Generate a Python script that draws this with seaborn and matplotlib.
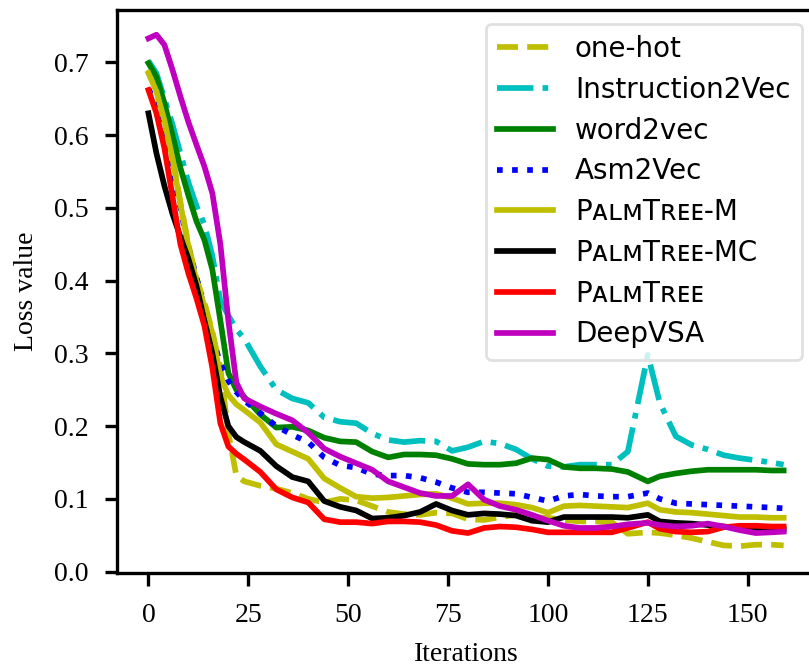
import numpy as np
import matplotlib
matplotlib.use("Agg")
import matplotlib.pyplot as plt
import seaborn as sns

# Training iterations at which the loss was recorded
iterations = [0, 2, 4, 6, 8, 10, 12, 14, 16, 18, 20, 22, 24,
              28, 32, 36, 40, 44, 48, 52, 56, 60, 64, 68, 72, 76, 80, 84, 88,
              92, 96, 100, 104, 108, 112, 116, 120, 125, 128, 132, 136, 140,
              144, 148, 152, 156, 159]

one_hot = [0.690, 0.665, 0.625, 0.572, 0.508, 0.450, 0.403, 0.370, 0.330, 0.280, 0.190, 0.132, 0.124,
           0.118, 0.114, 0.108, 0.100, 0.095, 0.100, 0.098, 0.090, 0.082, 0.079, 0.078, 0.081, 0.080,
           0.072, 0.071, 0.075, 0.078, 0.075, 0.074, 0.071, 0.069, 0.069, 0.068, 0.052, 0.054, 0.053,
           0.050, 0.046, 0.041, 0.036, 0.035, 0.037, 0.037, 0.036]

instruction2vec = [0.702, 0.685, 0.650, 0.615, 0.575, 0.535, 0.503, 0.477, 0.434, 0.372, 0.352, 0.333, 0.320,
                   0.282, 0.250, 0.238, 0.232, 0.212, 0.206, 0.204, 0.190, 0.181, 0.178, 0.180, 0.179, 0.166,
                   0.171, 0.179, 0.176, 0.168, 0.155, 0.145, 0.144, 0.147, 0.147, 0.147, 0.165, 0.298, 0.232,
                   0.186, 0.174, 0.168, 0.160, 0.156, 0.153, 0.150, 0.147]

word2vec = [0.699, 0.680, 0.644, 0.600, 0.555, 0.517, 0.482, 0.456, 0.415, 0.345, 0.273, 0.250, 0.240,
            0.216, 0.198, 0.199, 0.194, 0.184, 0.179, 0.178, 0.165, 0.157, 0.161, 0.161, 0.160, 0.155,
            0.148, 0.147, 0.147, 0.149, 0.156, 0.154, 0.144, 0.142, 0.142, 0.141, 0.137, 0.124, 0.131,
            0.135, 0.138, 0.140, 0.140, 0.140, 0.140, 0.139, 0.139]

asm2vec = [0.664, 0.640, 0.600, 0.550, 0.500, 0.445, 0.405, 0.362, 0.320, 0.287, 0.262, 0.247, 0.235,
           0.218, 0.200, 0.188, 0.178, 0.157, 0.146, 0.143, 0.134, 0.132, 0.132, 0.129, 0.123, 0.115,
           0.109, 0.109, 0.108, 0.107, 0.102, 0.097, 0.104, 0.106, 0.104, 0.103, 0.103, 0.108, 0.100,
           0.094, 0.093, 0.092, 0.091, 0.090, 0.089, 0.088, 0.087]

palmtree_m = [0.685, 0.660, 0.620, 0.568, 0.505, 0.447, 0.400, 0.365, 0.328, 0.268, 0.243, 0.230, 0.222,
              0.205, 0.175, 0.165, 0.155, 0.128, 0.115, 0.103, 0.101, 0.102, 0.104, 0.106, 0.107, 0.101,
              0.093, 0.094, 0.094, 0.092, 0.088, 0.081, 0.090, 0.091, 0.090, 0.089, 0.088, 0.094, 0.085,
              0.082, 0.081, 0.079, 0.077, 0.075, 0.075, 0.074, 0.074]

palmtree_mc = [0.630, 0.575, 0.530, 0.492, 0.460, 0.430, 0.393, 0.345, 0.300, 0.240, 0.200, 0.185, 0.178,
               0.166, 0.145, 0.130, 0.124, 0.097, 0.089, 0.084, 0.073, 0.074, 0.077, 0.082, 0.093, 0.084,
               0.078, 0.080, 0.079, 0.077, 0.070, 0.068, 0.075, 0.075, 0.075, 0.075, 0.074, 0.078, 0.069,
               0.067, 0.066, 0.064, 0.062, 0.060, 0.058, 0.058, 0.058]

palmtree = [0.662, 0.630, 0.582, 0.516, 0.450, 0.410, 0.376, 0.338, 0.280, 0.204, 0.172, 0.162, 0.154,
            0.137, 0.113, 0.102, 0.095, 0.072, 0.068, 0.068, 0.066, 0.069, 0.069, 0.068, 0.064, 0.056,
            0.053, 0.060, 0.062, 0.061, 0.058, 0.054, 0.054, 0.054, 0.054, 0.054, 0.060, 0.068, 0.059,
            0.055, 0.054, 0.055, 0.061, 0.063, 0.063, 0.062, 0.062]

deepvsa = [0.733, 0.738, 0.724, 0.690, 0.653, 0.618, 0.587, 0.557, 0.520, 0.450, 0.345, 0.260, 0.238,
           0.227, 0.217, 0.208, 0.191, 0.169, 0.158, 0.149, 0.140, 0.124, 0.116, 0.108, 0.104, 0.104,
           0.120, 0.099, 0.090, 0.085, 0.078, 0.070, 0.063, 0.060, 0.060, 0.062, 0.065, 0.067, 0.064,
           0.062, 0.063, 0.066, 0.062, 0.057, 0.053, 0.054, 0.055]

labels = ["one-hot", "Instruction2Vec", "word2vec", "Asm2Vec",
          "P\u1d00\u029f\u1d0dT\u0280\u1d07\u1d07-M",
          "P\u1d00\u029f\u1d0dT\u0280\u1d07\u1d07-MC",
          "P\u1d00\u029f\u1d0dT\u0280\u1d07\u1d07",
          "DeepVSA"]
series = [one_hot, instruction2vec, word2vec, asm2vec,
          palmtree_m, palmtree_mc, palmtree, deepvsa]
colors = ["y", "c", "g", "b", "y", "k", "r", "m"]
styles = ["--", "-.", "-", ":", "-", "-", "-", "-"]

sns.set_style("ticks")
plt.rcParams.update({
    "font.family": "serif",
    "font.serif": ["Liberation Serif", "DejaVu Serif"],
    "font.size": 20,
    "text.color": "black",
    "axes.labelcolor": "black",
    "axes.edgecolor": "black",
    "axes.linewidth": 2.4,
    "xtick.color": "black",
    "ytick.color": "black",
    "xtick.direction": "out",
    "ytick.direction": "out",
    "xtick.major.size": 9,
    "ytick.major.size": 9,
    "xtick.major.width": 2.4,
    "ytick.major.width": 2.4,
    "xtick.major.pad": 12.5,
    "ytick.major.pad": 11.5,
    "xtick.labelsize": 20,
    "ytick.labelsize": 20,
    "lines.solid_capstyle": "projecting",
    "lines.solid_joinstyle": "round",
    "lines.dash_joinstyle": "round",
})

fig = plt.figure(figsize=(8.09, 6.66), dpi=100)
ax = fig.add_axes([116.7 / 809, (666 - 572.7) / 666, 698.7 / 809, 562.7 / 666])

for lab, vals, col, ls in zip(labels, series, colors, styles):
    sns.lineplot(x=iterations, y=vals, ax=ax, color=col, linestyle=ls,
                 linewidth=4.1, label=lab)

ax.set_xlim(-7.95, 166.95)
ax.set_ylim(-0.0015, 0.772)
ax.set_xticks([0, 25, 50, 75, 100, 125, 150])
ax.set_yticks([0.0, 0.1, 0.2, 0.3, 0.4, 0.5, 0.6, 0.7])
ax.set_yticklabels(["0.0", "0.1", "0.2", "0.3", "0.4", "0.5", "0.6", "0.7"])

ax.set_xlabel("Iterations", fontsize=20)
ax.set_ylabel("Loss value", fontsize=20)
ax.xaxis.set_label_coords(0.5, -0.124)
ax.yaxis.set_label_coords(-0.111, 0.5)

leg = ax.legend(loc="upper right", prop={"family": "DejaVu Sans", "size": 20},
                labelspacing=0.46, framealpha=0.8, fancybox=True, edgecolor="0.85",
                handlelength=2.0, handletextpad=0.8, borderpad=0.4)
leg.get_frame().set_linewidth(2)

fig.savefig("out.png", dpi=100)
